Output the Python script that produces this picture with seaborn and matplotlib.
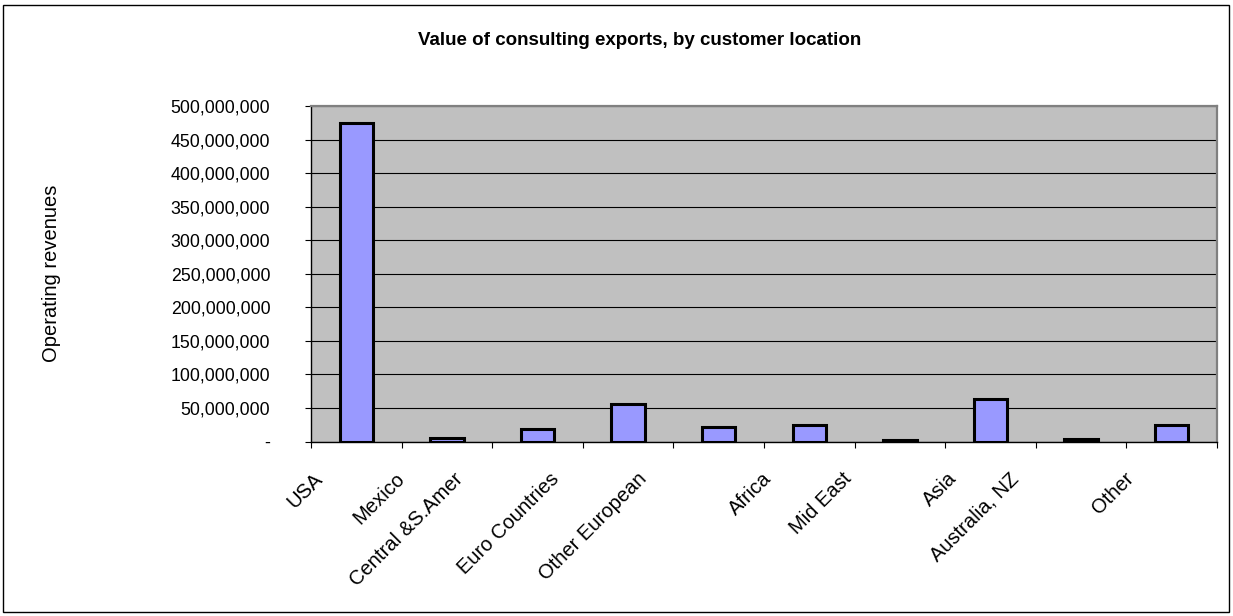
import numpy as np
import pandas as pd
import matplotlib
matplotlib.use("Agg")
import matplotlib.pyplot as plt
from matplotlib.patches import Rectangle
from matplotlib.ticker import FuncFormatter, MultipleLocator
import seaborn as sns

# Chart data
categories = ["USA", "Mexico", "Central &S.Amer", "Euro Countries", "Other European",
              "Africa", "Mid East", "Asia", "Australia, NZ", "Other"]
revenues = [475_000_000, 5_000_000, 18_000_000, 56_000_000, 22_000_000,
            24_000_000, 2_000_000, 63_000_000, 4_000_000, 25_000_000]
y_max = 500_000_000
y_step = 50_000_000
title = "Value of consulting exports, by customer location"
y_title = "Operating revenues"

sns.set_theme(style="white")
plt.rcParams["font.family"] = ["Liberation Sans", "DejaVu Sans"]

W, H, DPI = 1233, 616, 100
fig = plt.figure(figsize=(W / DPI, H / DPI), dpi=DPI)
fig.patch.set_facecolor("white")

# plot area (pixel box 311..1217 x 106..441.5)
ax = fig.add_axes([311 / W, 1 - 441.5 / H, (1217 - 311) / W, (441.5 - 106) / H])
ax.set_facecolor("#C0C0C0")
ax.set_axisbelow(True)

df = pd.DataFrame({"location": categories, "revenue": revenues})
sns.barplot(data=df, x="location", y="revenue", order=categories,
            color="#9999FF", saturation=1, edgecolor="black", linewidth=2.2,
            width=0.37, errorbar=None, ax=ax)

ax.set_xlim(-0.5, len(categories) - 0.5)
ax.set_ylim(0, y_max)

# y axis: comma-separated values, zero shown as a dash
ax.yaxis.set_major_locator(MultipleLocator(y_step))
ax.yaxis.set_major_formatter(FuncFormatter(lambda v, _: "-" if v == 0 else f"{int(round(v)):,}"))
ax.yaxis.grid(True, color="black", linewidth=0.8)
ax.tick_params(axis="y", direction="out", length=4.3, width=0.8, color="black",
               pad=25, labelsize=12.8, labelcolor="black", left=True)

# x axis: tick marks on category boundaries, labels drawn separately
ax.set_xticks(np.arange(-0.5, len(categories), 1.0))
ax.tick_params(axis="x", direction="out", length=4.3, width=0.8, color="black",
               bottom=True, labelbottom=False)
ax.set_xlabel("")

ax.set_ylabel(y_title, fontsize=14.5, color="black")
ax.yaxis.set_label_coords((61 - 311) / (1217 - 311), 0.5)

for side in ("left", "bottom"):
    ax.spines[side].set_color("black")
    ax.spines[side].set_linewidth(1.0)
for side in ("top", "right"):
    ax.spines[side].set_color("#808080")
    ax.spines[side].set_linewidth(1.6)

# rotated category labels, pulled left of their bars in proportion to their length
label_drop = -27.5
labels = []
for i, name in enumerate(categories):
    t = ax.annotate(name, xy=(i, 0), xycoords=("data", "axes fraction"),
                    xytext=(0, label_drop), textcoords="offset pixels",
                    rotation=45, ha="right", va="top", fontsize=14.5, color="black")
    labels.append(t)

fig.canvas.draw()
renderer = fig.canvas.get_renderer()
for t in labels:
    bw = t.get_window_extent(renderer).width
    t.xyann = (-(8 + 0.525 * bw), label_drop)

fig.text(640 / W, 1 - 45 / H, title, ha="center", va="baseline",
         fontsize=13.5, fontweight="bold", color="black")

# chart frame
fig.add_artist(Rectangle((3 / W, 4 / H), 1226 / W, 607 / H, transform=fig.transFigure,
                         fill=False, edgecolor="black", linewidth=1.0))

fig.savefig("out.png", dpi=DPI)
